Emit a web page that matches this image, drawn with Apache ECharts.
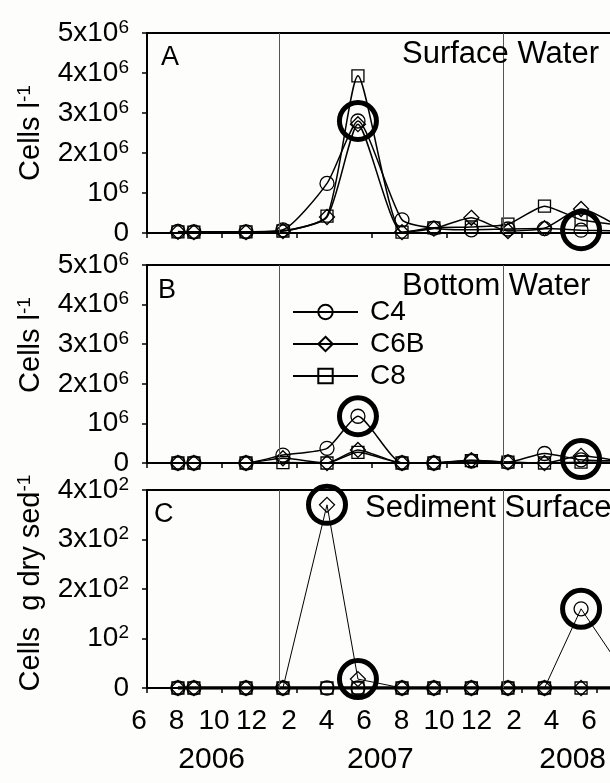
<!DOCTYPE html>
<html><head><meta charset="utf-8">
<script src="https://cdn.jsdelivr.net/npm/echarts@6/dist/echarts.min.js"></script>
<style>html,body{margin:0;padding:0;background:#fdfdfb}#c{width:610px;height:783px}</style>
</head><body><div id="c"></div>
<script>
// sampling dates, in months after June 2006 (last one lies just past the visible edge)
const sampleMonths = [1.65, 2.5, 5.28, 7.25, 9.6, 11.25, 13.6, 15.3, 17.3, 19.25, 21.2, 23.15, 25.2];
// A: surface water, 10^6 cells l-1
const surfaceC4  = [0.04, 0.03, 0.03, 0.08, 1.24, 2.80, 0.33, 0.12, 0.08, 0.10, 0.11, 0.07, 0.05];
const surfaceC6B = [0.03, 0.02, 0.02, 0.05, 0.40, 2.72, 0.02, 0.11, 0.38, 0.05, 0.12, 0.60, 0.15];
const surfaceC8  = [0.03, 0.02, 0.03, 0.05, 0.42, 3.93, 0.02, 0.13, 0.15, 0.22, 0.67, 0.33, 0.20];
// B: bottom water, 10^6 cells l-1
const bottomC4  = [0, 0, 0, 0.20, 0.37, 1.18, 0, 0, 0.05, 0.02, 0.24, 0.08, 0.05];
const bottomC6B = [0, 0, 0, 0.12, 0, 0.33, 0, 0, 0.07, 0.02, 0, 0.18, 0.05];
const bottomC8  = [0, 0, 0, 0.01, 0, 0.27, 0, 0, 0.06, 0.02, 0, 0.02, 0.02];
// C: sediment surface, cells g dry sed-1
const sedimentC4  = [0, 0, 0, 0, 0, 0, 0, 0, 0, 0, 0, 160, 45];
const sedimentC6B = [0, 0, 0, 0, 370, 18, 0, 0, 0, 0, 0, 0, 0];
const sedimentC8  = [0, 0, 0, 0, 0, 0, 0, 0, 0, 0, 0, 0, 0];
// highlighted samples [month, value]
const highlightSurface  = [[11.25, 2.8], [23.15, 0.07]];
const highlightBottom   = [[11.25, 1.18], [23.15, 0.1]];
const highlightSediment = [[9.6, 370], [11.25, 18], [23.15, 160]];
// axis text
const yearLineMonths = [7.05, 19.0];
const monthLabelPositions = [0, 2, 4, 6, 8, 10, 12, 14, 16, 18, 20, 22, 24];
const monthTickLabels = ['6', '8', '10', '12', '2', '4', '6', '8', '10', '12', '2', '4', '6'];
const monthTickPositions = [0, 4, 8, 12, 16, 20, 24];
const yearLabels = ['2006', '2007', '2008'];
const yearLabelPositions = [3.45, 12.45, 22.7];

const FONT = 'Liberation Sans';
const chart = echarts.init(document.getElementById('c'));

const grids = [
  {left: 147, top: 33, height: 200},
  {left: 147, top: 265, height: 198},
  {left: 147, top: 490, height: 198}
].map(g => Object.assign(g, {width: 487.5, show: true, borderColor: '#000', borderWidth: 2,
  backgroundColor: 'transparent', containLabel: false, outerBoundsMode: 'none'}));

const richTick = {
  b: {fontSize: 28, fontFamily: FONT, color: '#000', lineHeight: 30},
  s: {fontSize: 19, fontFamily: FONT, color: '#000', lineHeight: 19, verticalAlign: 'top'}
};
const richName = {
  b: {fontSize: 29, fontFamily: FONT, color: '#000', lineHeight: 32},
  s: {fontSize: 19, fontFamily: FONT, color: '#000', lineHeight: 19, verticalAlign: 'top'}
};

function waterLabel(v) {
  if (v === 0) return '{b|0}';
  if (v === 1) return '{b|10}{s|6}';
  return '{b|' + v + 'x10}{s|6}';
}
function sedLabel(v) {
  if (v === 0) return '{b|0}';
  if (v === 100) return '{b|10}{s|2}';
  return '{b|' + (v / 100) + 'x10}{s|2}';
}

function mainX(gi) {
  return {
    type: 'value', gridIndex: gi, position: 'bottom', min: 0, max: 26,
    axisLine: {show: true, onZero: false, lineStyle: {color: '#000', width: 2}},
    axisTick: {show: true, length: 5, customValues: monthTickPositions, lineStyle: {color: '#000', width: 1.5}},
    axisLabel: {show: false},
    splitLine: {show: false}
  };
}
const xAxes = [mainX(0), mainX(1), mainX(2),
  {
    type: 'value', gridIndex: 2, position: 'bottom', min: 0, max: 26,
    axisLine: {show: false, onZero: false}, axisTick: {show: false}, splitLine: {show: false},
    axisLabel: {
      show: true, margin: 19, customValues: monthLabelPositions,
      fontSize: 28, fontFamily: FONT, color: '#000', padding: [0, 16, 0, 0],
      formatter: (v) => monthTickLabels[monthLabelPositions.findIndex(p => Math.abs(p - v) < 1e-6)]
    }
  },
  {
    type: 'value', gridIndex: 2, position: 'bottom', min: 0, max: 26,
    axisLine: {show: false, onZero: false}, axisTick: {show: false}, splitLine: {show: false},
    axisLabel: {
      show: true, margin: 57, customValues: yearLabelPositions,
      fontSize: 30, fontFamily: FONT, color: '#000',
      formatter: (v) => yearLabels[yearLabelPositions.findIndex(p => Math.abs(p - v) < 1e-6)]
    }
  }
];

function mainY(gi, max, interval, fmt, name, namePad) {
  return {
    type: 'value', gridIndex: gi, min: 0, max: max, interval: interval,
    axisLine: {show: true, lineStyle: {color: '#000', width: 2}},
    axisTick: {show: true, length: 5, lineStyle: {color: '#000', width: 1.5}},
    axisLabel: {margin: 18, formatter: fmt, rich: richTick},
    splitLine: {show: false},
    name: name, nameLocation: 'middle', nameRotate: 90, nameGap: 100,
    nameTextStyle: {rich: richName, padding: namePad}
  };
}
const yAxes = [
  mainY(0, 5, 1, waterLabel, '{b|Cells l}{s|-1}', [0, 0, 0, 0]),
  mainY(1, 5, 1, waterLabel, '{b|Cells l}{s|-1}', [0, 0, 0, 38]),
  mainY(2, 400, 100, sedLabel, '{b|Cells  g dry sed}{s|-1}', [0, 0, 0, 12])
];

function lineSeries(name, symbol, size, values, gi, lw, smooth, withYearLines) {
  const s = {
    type: 'line', name: name, xAxisIndex: gi, yAxisIndex: gi,
    data: sampleMonths.map((m, i) => [m, values[i]]),
    symbol: symbol, symbolSize: size, smooth: smooth, showAllSymbol: true,
    lineStyle: {color: '#000', width: lw},
    itemStyle: {color: 'rgba(255,255,255,0)', borderColor: '#000', borderWidth: 1.3},
    emphasis: {disabled: true}, z: 3
  };
  if (withYearLines) {
    s.markLine = {
      silent: true, symbol: ['none', 'none'], label: {show: false},
      lineStyle: {color: '#555', width: 1, type: 'solid'},
      data: yearLineMonths.map(m => ({xAxis: m}))
    };
  }
  return s;
}
function ringSeries(points, gi) {
  return {
    type: 'scatter', xAxisIndex: gi, yAxisIndex: gi, data: points,
    symbol: 'circle', symbolSize: 37, silent: true, z: 4,
    itemStyle: {color: 'rgba(0,0,0,0)', borderColor: '#000', borderWidth: 5, opacity: 1},
    emphasis: {disabled: true}
  };
}

const series = [
  lineSeries('C4', 'circle', 14, surfaceC4, 0, 1.5, 0.2, true),
  lineSeries('C6B', 'diamond', 15, surfaceC6B, 0, 1.5, 0.2, false),
  lineSeries('C8', 'rect', 12, surfaceC8, 0, 1.5, 0.2, false),
  ringSeries(highlightSurface, 0),
  lineSeries('C4', 'circle', 14, bottomC4, 1, 1.5, 0.2, true),
  lineSeries('C6B', 'diamond', 15, bottomC6B, 1, 1.5, 0.2, false),
  lineSeries('C8', 'rect', 12, bottomC8, 1, 1.5, 0.2, false),
  ringSeries(highlightBottom, 1),
  lineSeries('C4', 'circle', 14, sedimentC4, 2, 1, false, true),
  lineSeries('C6B', 'diamond', 15, sedimentC6B, 2, 1, false, false),
  lineSeries('C8', 'rect', 12, sedimentC8, 2, 3.5, false, false),
  ringSeries(highlightSediment, 2)
];

function txt(text, x, y, size) {
  return {type: 'text', x: x, y: y, silent: true, z: 10,
    style: {text: text, fontSize: size, fontFamily: FONT, fill: '#000', verticalAlign: 'middle', align: 'left'}};
}

chart.setOption({
  animation: false,
  backgroundColor: '#fdfdfb',
  grid: grids,
  xAxis: xAxes,
  yAxis: yAxes,
  legend: {
    data: ['C4', 'C6B', 'C8'], orient: 'vertical', left: 287, top: 293,
    itemWidth: 65, itemHeight: 18, itemGap: 4, selectedMode: false,
    textStyle: {fontSize: 28, fontFamily: FONT, color: '#000', padding: [0, 0, 0, 7]}
  },
  series: series,
  graphic: [
    txt('A', 161, 58, 27), txt('Surface Water', 402, 54, 31),
    txt('B', 158, 291, 27), txt('Bottom Water', 402, 286, 31),
    txt('C', 154, 515, 27), txt('Sediment Surface', 365, 508, 31)
  ]
});
</script></body></html>
